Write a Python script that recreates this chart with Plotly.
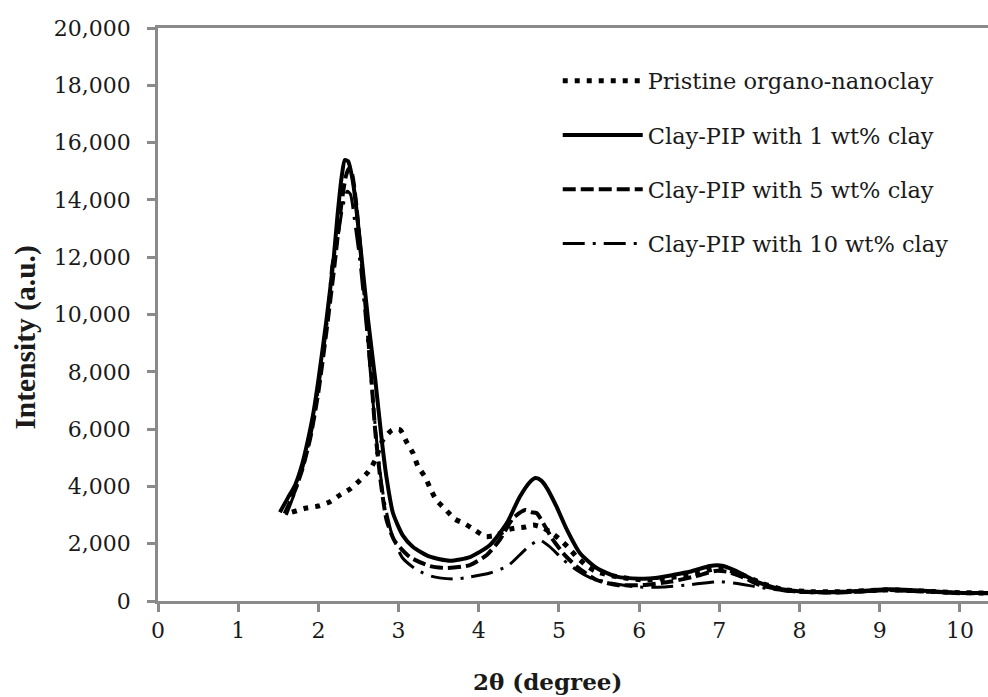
import plotly.graph_objects as go

# ---- data ----
series_names = ["Pristine organo-nanoclay", "Clay-PIP with 1 wt% clay",
                "Clay-PIP with 5 wt% clay", "Clay-PIP with 10 wt% clay"]

pristine_x = [1.67, 1.85, 2.00, 2.14, 2.27, 2.39, 2.52, 2.62, 2.71, 2.80, 2.92, 3.02, 3.10, 3.18,
              3.24, 3.33, 3.40, 3.47, 3.58, 3.70, 3.83, 3.95, 4.08, 4.22, 4.35, 4.47, 4.58, 4.68,
              4.78, 4.89, 4.99, 5.11, 5.22, 5.35, 5.47, 5.72, 6.05, 6.40, 6.70, 6.95, 7.10, 7.30,
              7.55, 7.80, 8.10, 8.50, 9.10, 9.60, 10.00, 10.40]
pristine_y = [3100, 3245, 3316, 3455, 3700, 3900, 4220, 4500, 4920, 5600, 5970, 5970, 5550, 5160,
              4710, 4330, 3900, 3525, 3210, 2860, 2690, 2480, 2250, 2300, 2480, 2550, 2580, 2650,
              2580, 2410, 2200, 1885, 1545, 1220, 1020, 850, 733, 820, 950, 1130, 1100, 900,
              600, 400, 330, 320, 390, 340, 290, 280]

clay1_x = [1.52, 1.62, 1.71, 1.80, 1.87, 1.94, 2.00, 2.10, 2.19, 2.24, 2.29, 2.33, 2.37, 2.42,
           2.46, 2.54, 2.62, 2.71, 2.79, 2.85, 2.93, 3.05, 3.18, 3.39, 3.64, 3.89, 4.14, 4.35,
           4.51, 4.64, 4.71, 4.78, 4.85, 4.97, 5.10, 5.26, 5.47, 5.72, 6.01, 6.20, 6.42, 6.63,
           6.88, 6.97, 7.05, 7.26, 7.46, 7.76, 8.09, 8.50, 8.80, 9.13, 9.54, 9.96, 10.40]
clay1_y = [3100, 3600, 4050, 4800, 5620, 6600, 7710, 9800, 11940, 13500, 14800, 15390, 15350, 14800,
           14030, 11940, 9800, 7710, 5620, 4300, 3070, 2300, 1885, 1545, 1407, 1535, 1955, 2720,
           3630, 4160, 4290, 4200, 3940, 3290, 2480, 1675, 1150, 850, 780, 800, 907, 1020,
           1220, 1250, 1220, 977, 675, 420, 325, 320, 360, 410, 360, 290, 280]

clay5_x = [1.58, 1.70, 1.80, 1.90, 2.00, 2.10, 2.20, 2.28, 2.34, 2.38, 2.42, 2.47, 2.52, 2.60,
           2.66, 2.71, 2.78, 2.85, 2.95, 3.14, 3.39, 3.60, 3.89, 4.10, 4.26, 4.43, 4.58, 4.65,
           4.72, 4.83, 4.91, 5.05, 5.22, 5.47, 5.72, 6.05, 6.40, 6.70, 6.95, 7.10, 7.30, 7.50,
           7.80, 8.10, 8.50, 9.10, 9.60, 10.00, 10.40]
clay5_y = [3050, 3800, 4600, 5700, 7300, 9400, 11700, 13700, 14800, 15100, 14900, 13900, 12400, 9900,
           7800, 5900, 4100, 2830, 2100, 1535, 1220, 1150, 1256, 1605, 2130, 2900, 3175, 3100,
           3070, 2590, 2200, 1675, 1200, 733, 560, 560, 680, 860, 1050, 1020, 820, 560,
           380, 310, 300, 380, 330, 280, 270]

clay10_x = [1.60, 1.72, 1.82, 1.92, 2.02, 2.12, 2.17, 2.23, 2.30, 2.36, 2.40, 2.45, 2.52, 2.60,
            2.67, 2.74, 2.82, 2.92, 3.05, 3.23, 3.43, 3.70, 3.89, 4.14, 4.36, 4.51, 4.62, 4.76,
            4.86, 4.93, 5.05, 5.22, 5.40, 5.64, 5.97, 6.30, 6.60, 6.85, 7.00, 7.20, 7.50, 7.80,
            8.10, 8.50, 9.10, 9.60, 10.00, 10.40]
clay10_y = [3000, 3900, 4800, 6000, 7800, 10000, 11730, 12460, 13700, 14300, 14200, 13300, 11800, 9500,
            7300, 5200, 3500, 2300, 1500, 1080, 850, 768, 840, 977, 1220, 1605, 1900, 2130,
            1950, 1780, 1450, 1080, 800, 630, 490, 490, 560, 640, 680, 620, 480, 360,
            300, 290, 360, 310, 270, 260]

y_tick_vals = [0, 2000, 4000, 6000, 8000, 10000, 12000, 14000, 16000, 18000, 20000]
y_tick_text = ["0", "2,000", "4,000", "6,000", "8,000", "10,000", "12,000", "14,000",
               "16,000", "18,000", "20,000"]
x_tick_vals = [0, 1, 2, 3, 4, 5, 6, 7, 8, 9, 10]

FONT = "DejaVu Serif"
TFONT = "Liberation Serif"
AX = "#8a8a8a"
TXT = "#1a1a1a"

fig = go.Figure()
styles = [
    (pristine_x, pristine_y, dict(color="black", width=5, dash="5px,7px")),
    (clay1_x, clay1_y, dict(color="black", width=4)),
    (clay5_x, clay5_y, dict(color="black", width=4, dash="13px,5px")),
    (clay10_x, clay10_y, dict(color="black", width=3, dash="22px,8px,3px,8px")),
]
for i, (xs, ys, ln) in enumerate(styles):
    fig.add_trace(go.Scatter(x=xs, y=ys, mode="lines", name=series_names[i],
                             line=dict(shape="spline", smoothing=0.6, **ln),
                             legendgroup="g%d" % i))

fig.update_layout(
    width=988, height=697,
    margin=dict(l=158, r=0, t=28, b=96),
    paper_bgcolor="white", plot_bgcolor="white",
    font=dict(family=FONT, size=20, color=TXT),
    showlegend=True,
    legend=dict(x=0.4816, y=0.945, xanchor="left", yanchor="top",
                font=dict(family=FONT, size=22.5, color=TXT),
                itemwidth=80, tracegroupgap=22, bgcolor="rgba(0,0,0,0)"),
    xaxis=dict(range=[0, 10.35], tickvals=x_tick_vals, showgrid=False, zeroline=False,
               showline=True, linecolor=AX, linewidth=2.5, mirror=True,
               ticks="outside", ticklen=8, tickwidth=2.5, tickcolor=AX,
               tickfont=dict(family=FONT, size=22, color=TXT)),
    yaxis=dict(range=[0, 20000], tickvals=y_tick_vals, ticktext=y_tick_text,
               showgrid=False, zeroline=False,
               showline=True, linecolor=AX, linewidth=2.5,
               ticks="outside", ticklen=8, tickwidth=2.5, tickcolor=AX,
               ticklabelstandoff=12,
               tickfont=dict(family=FONT, size=22, color=TXT)),
)

fig.add_annotation(text="<b>2θ (degree)</b>", xref="paper", yref="paper",
                   x=(547 - 158) / 830, y=-0.14, xanchor="center", yanchor="middle",
                   showarrow=False, font=dict(family=FONT, size=23, color=TXT))
fig.add_annotation(text="<b>Intensity (a.u.)</b>", xref="paper", yref="paper",
                   x=-0.16, y=0.46, xanchor="center", yanchor="middle", textangle=-90,
                   showarrow=False, font=dict(family=TFONT, size=29.5, color=TXT))

fig.write_html("out.html")
